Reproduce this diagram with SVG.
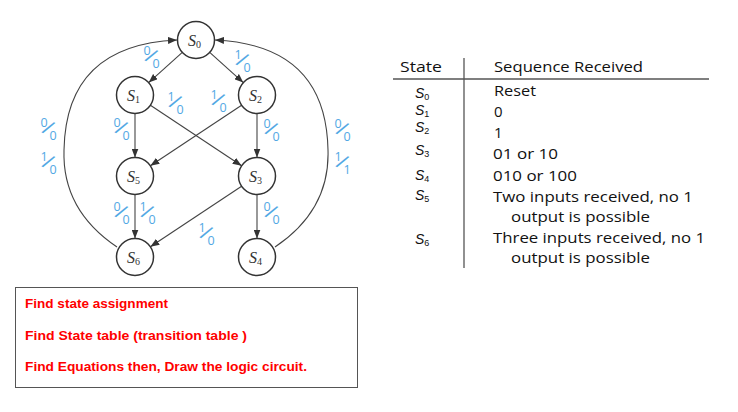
<svg xmlns="http://www.w3.org/2000/svg" width="738" height="412" viewBox="0 0 738 412">
<defs>
<marker id="ah" viewBox="0 0 9 7" refX="9" refY="3.5" markerWidth="9" markerHeight="7" markerUnits="userSpaceOnUse" orient="auto"><path d="M0,0 L9,3.5 L0,7 z" fill="#333"/></marker>
<style>
.node circle{fill:#fff;stroke:#333;stroke-width:1.5}
.node text{font-family:"Liberation Serif",serif;font-style:italic;font-size:16px;fill:#333}
.node .sub{font-size:10px;font-style:normal}
.edge{fill:none;stroke:#444;stroke-width:1.1;marker-end:url(#ah)}
.lbl text{font-family:"Open Sans","Liberation Sans",sans-serif;font-size:12.5px;fill:#52a8e4;text-anchor:middle}
.lbl .sl{font-size:21px}
.tbl{font-family:"Open Sans","Liberation Sans",sans-serif;font-size:15px;fill:#111}
.ts{font-family:"Liberation Sans",Arial,sans-serif;font-style:italic;font-size:14px;fill:#111}
.ts .sub{font-size:9px;font-style:normal}
.task{font-family:"Liberation Sans",Arial,sans-serif;font-weight:bold;font-size:13px;fill:#ff0000}
</style>
</defs>
<rect width="738" height="412" fill="#fff"/>

<g id="connectors">
<line class="edge" x1="182.3" y1="52.4" x2="148.7" y2="82.6"/>
<line class="edge" x1="209.7" y1="52.4" x2="243.3" y2="82.6"/>
<line class="edge" x1="135" y1="113.5" x2="135" y2="157.5"/>
<line class="edge" x1="257" y1="113.5" x2="257" y2="157.5"/>
<line class="edge" x1="150.4" y1="105.2" x2="241.6" y2="165.8"/>
<line class="edge" x1="241.6" y1="105.2" x2="150.4" y2="165.8"/>
<line class="edge" x1="135" y1="194.5" x2="135" y2="238.5"/>
<line class="edge" x1="257" y1="194.5" x2="257" y2="238.5"/>
<line class="edge" x1="241.6" y1="186.2" x2="150.4" y2="246.8"/>
<path class="edge" d="M117,247 Q62,210 64,150 Q66,45 177,40"/>
<path class="edge" d="M275,247 Q330,210 328,150 Q326,45 215,40"/>
</g>

<g id="labels">
<g class="lbl" transform="translate(151,56)"><text x="-4" y="-1">0</text><text x="5" y="12">0</text><text class="sl" y="7" transform="rotate(30)">/</text></g>
<g class="lbl" transform="translate(242,60)"><text x="-4" y="-1">1</text><text x="5" y="12">0</text><text class="sl" y="7" transform="rotate(30)">/</text></g>
<g class="lbl" transform="translate(175,102)"><text x="-4" y="-1">1</text><text x="5" y="12">0</text><text class="sl" y="7" transform="rotate(30)">/</text></g>
<g class="lbl" transform="translate(218,100)"><text x="-4" y="-1">1</text><text x="5" y="12">0</text><text class="sl" y="7" transform="rotate(30)">/</text></g>
<g class="lbl" transform="translate(121,128)"><text x="-4" y="-1">0</text><text x="5" y="12">0</text><text class="sl" y="7" transform="rotate(30)">/</text></g>
<g class="lbl" transform="translate(271,129)"><text x="-4" y="-1">0</text><text x="5" y="12">0</text><text class="sl" y="7" transform="rotate(30)">/</text></g>
<g class="lbl" transform="translate(48,128)"><text x="-4" y="-1">0</text><text x="5" y="12">0</text><text class="sl" y="7" transform="rotate(30)">/</text></g>
<g class="lbl" transform="translate(48,162)"><text x="-4" y="-1">1</text><text x="5" y="12">0</text><text class="sl" y="7" transform="rotate(30)">/</text></g>
<g class="lbl" transform="translate(342,129)"><text x="-4" y="-1">0</text><text x="5" y="12">0</text><text class="sl" y="7" transform="rotate(30)">/</text></g>
<g class="lbl" transform="translate(342,162)"><text x="-4" y="-1">1</text><text x="5" y="12">1</text><text class="sl" y="7" transform="rotate(30)">/</text></g>
<g class="lbl" transform="translate(121,212)"><text x="-4" y="-1">0</text><text x="5" y="12">0</text><text class="sl" y="7" transform="rotate(30)">/</text></g>
<g class="lbl" transform="translate(147,212)"><text x="-4" y="-1">1</text><text x="5" y="12">0</text><text class="sl" y="7" transform="rotate(30)">/</text></g>
<g class="lbl" transform="translate(271,212)"><text x="-4" y="-1">0</text><text x="5" y="12">0</text><text class="sl" y="7" transform="rotate(30)">/</text></g>
<g class="lbl" transform="translate(206,233)"><text x="-4" y="-1">1</text><text x="5" y="12">0</text><text class="sl" y="7" transform="rotate(30)">/</text></g>
</g>

<g id="S0" class="node"><circle cx="196" cy="40" r="18.5"/><text x="188" y="46">S<tspan class="sub" dy="2">0</tspan></text></g>
<g id="S1" class="node"><circle cx="135" cy="95" r="18.5"/><text x="127" y="101">S<tspan class="sub" dy="2">1</tspan></text></g>
<g id="S2" class="node"><circle cx="257" cy="95" r="18.5"/><text x="249" y="101">S<tspan class="sub" dy="2">2</tspan></text></g>
<g id="S5" class="node"><circle cx="135" cy="176" r="18.5"/><text x="127" y="182">S<tspan class="sub" dy="2">5</tspan></text></g>
<g id="S3" class="node"><circle cx="257" cy="176" r="18.5"/><text x="249" y="182">S<tspan class="sub" dy="2">3</tspan></text></g>
<g id="S6" class="node"><circle cx="135" cy="257" r="18.5"/><text x="127" y="263">S<tspan class="sub" dy="2">6</tspan></text></g>
<g id="S4" class="node"><circle cx="257" cy="257" r="18.5"/><text x="249" y="263">S<tspan class="sub" dy="2">4</tspan></text></g>

<g id="table">
<line x1="464" y1="58" x2="464" y2="268" stroke="#555" stroke-width="1.3"/>
<line x1="393" y1="79" x2="709" y2="79" stroke="#555" stroke-width="1.3"/>
<text class="tbl" x="400" y="72" textLength="42" lengthAdjust="spacingAndGlyphs">State</text>
<text class="tbl" x="494" y="72" textLength="149" lengthAdjust="spacingAndGlyphs">Sequence Received</text>
<text class="ts" x="415" y="98">S<tspan class="sub" dy="1.5">0</tspan></text>
<text class="ts" x="415" y="115">S<tspan class="sub" dy="1.5">1</tspan></text>
<text class="ts" x="415" y="132">S<tspan class="sub" dy="1.5">2</tspan></text>
<text class="ts" x="415" y="155">S<tspan class="sub" dy="1.5">3</tspan></text>
<text class="ts" x="415" y="180">S<tspan class="sub" dy="1.5">4</tspan></text>
<text class="ts" x="415" y="200">S<tspan class="sub" dy="1.5">5</tspan></text>
<text class="ts" x="415" y="244">S<tspan class="sub" dy="1.5">6</tspan></text>
<text class="tbl" x="494" y="96" textLength="42" lengthAdjust="spacingAndGlyphs">Reset</text>
<text class="tbl" x="494" y="117">0</text>
<text class="tbl" x="494" y="138">1</text>
<text class="tbl" x="493" y="159" textLength="65" lengthAdjust="spacingAndGlyphs">01 or 10</text>
<text class="tbl" x="493" y="181" textLength="84" lengthAdjust="spacingAndGlyphs">010 or 100</text>
<text class="tbl" x="493" y="202" textLength="200" lengthAdjust="spacingAndGlyphs">Two inputs received, no 1</text>
<text class="tbl" x="511" y="222" textLength="139" lengthAdjust="spacingAndGlyphs">output is possible</text>
<text class="tbl" x="493" y="243" textLength="212" lengthAdjust="spacingAndGlyphs">Three inputs received, no 1</text>
<text class="tbl" x="511" y="263" textLength="139" lengthAdjust="spacingAndGlyphs">output is possible</text>
</g>

<g id="tasks">
<rect x="15.5" y="287.5" width="342" height="100" fill="#fff" stroke="#555" stroke-width="1"/>
<text class="task" x="25" y="308" textLength="143" lengthAdjust="spacingAndGlyphs">Find state assignment</text>
<text class="task" x="25" y="340" textLength="222" lengthAdjust="spacingAndGlyphs">Find State table (transition table )</text>
<text class="task" x="25" y="371" textLength="282" lengthAdjust="spacingAndGlyphs">Find Equations then, Draw the logic circuit.</text>
</g>
</svg>
